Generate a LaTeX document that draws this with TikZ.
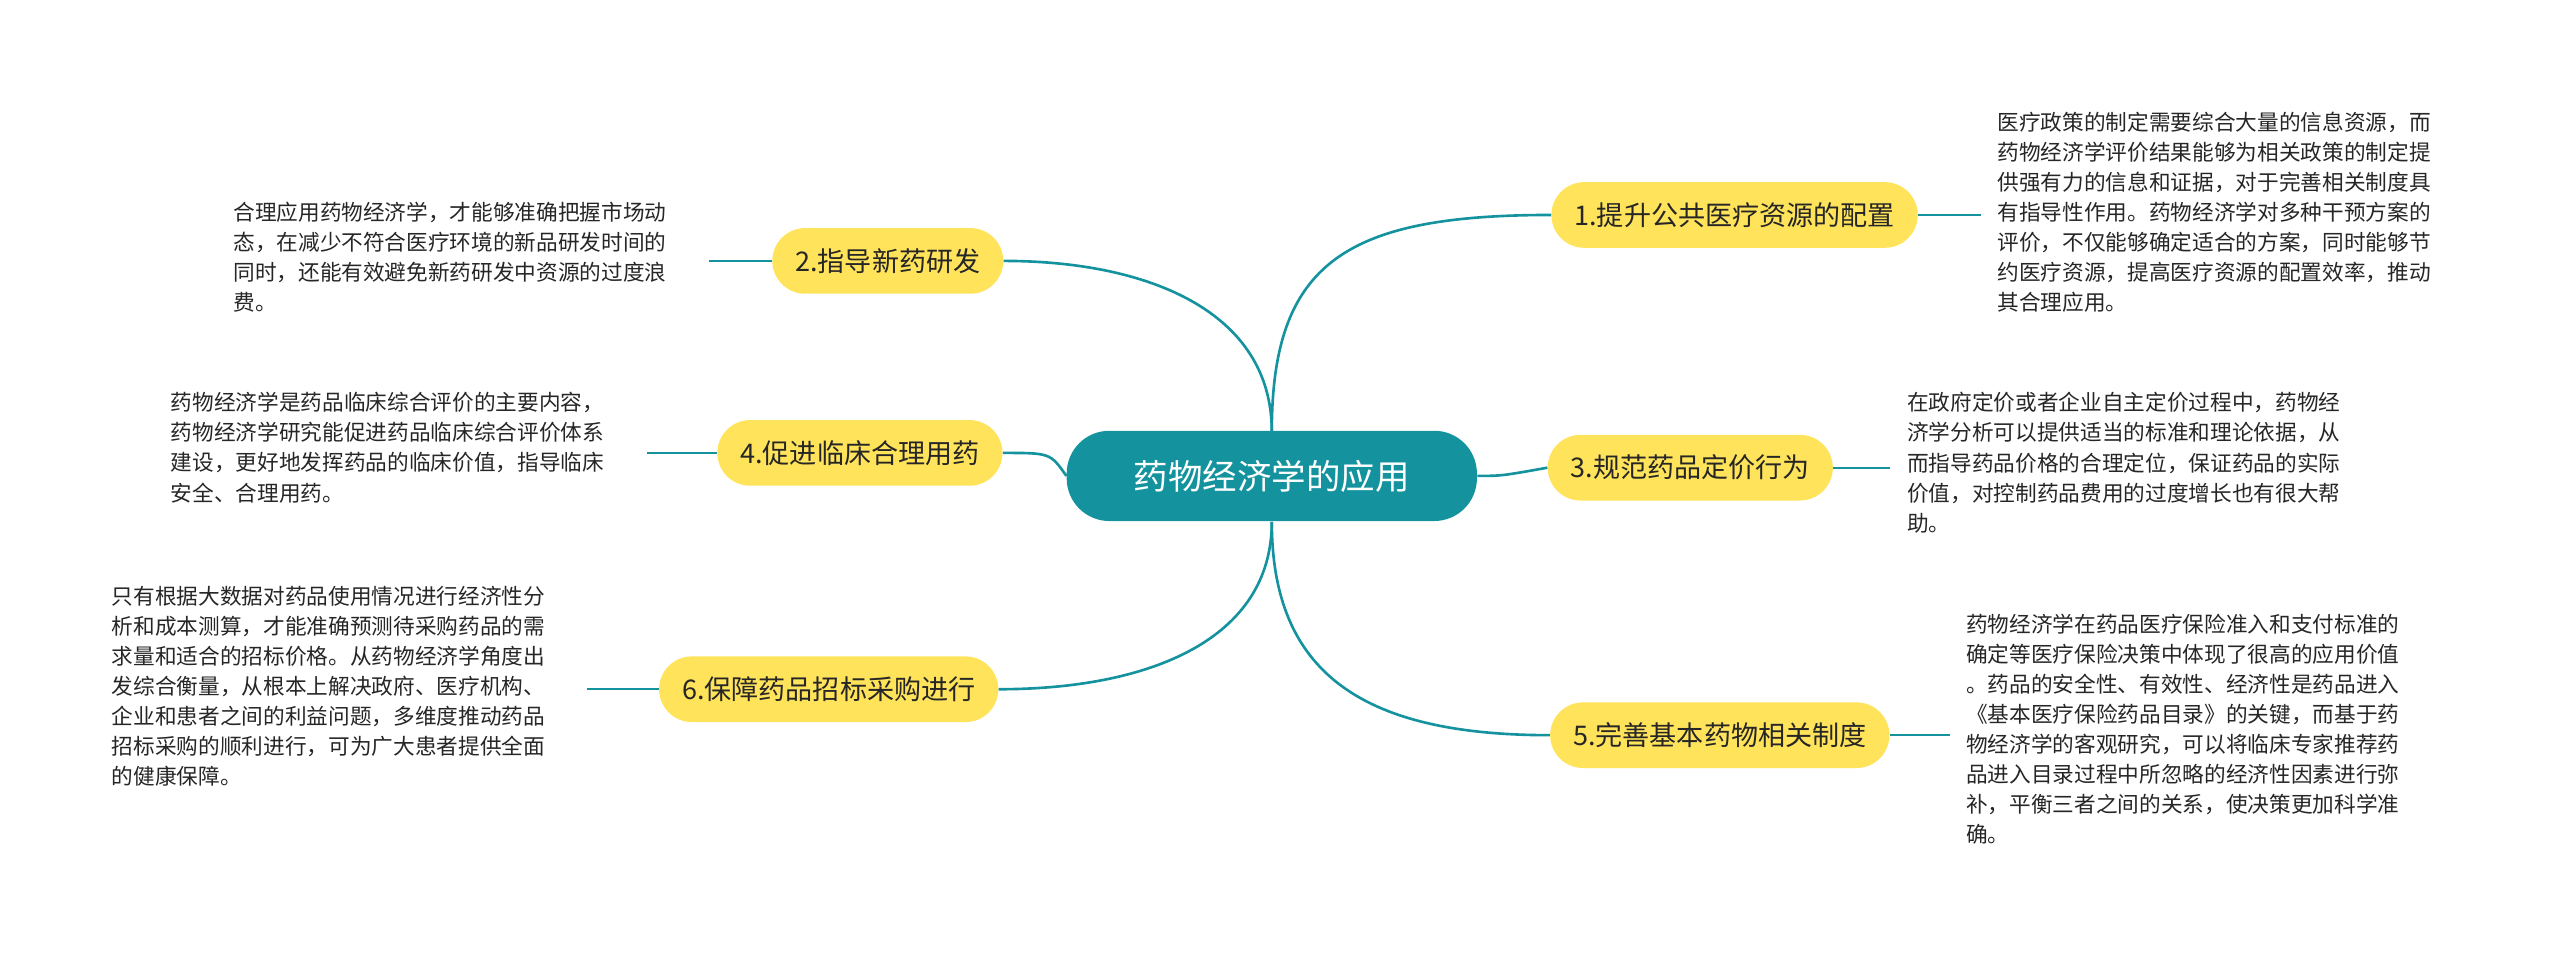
\documentclass[tikz,border=0pt]{standalone}
\usepackage{fontspec}
\setmainfont{Noto Sans CJK SC}
\begin{document}
\begin{tikzpicture}[x=1pt,y=-1pt,
  br/.style={fill=brY,rounded corners=20pt,minimum height=40pt,inner xsep=14pt,font=\fontsize{16.5}{20}\selectfont,text=black!85},
  desc/.style={align=left,font=\fontsize{13.2}{18.3}\selectfont,text=black!85,inner sep=0pt},
  ln/.style={draw=teal0,line width=1.6pt}]
\definecolor{brY}{HTML}{FFE35A}
\definecolor{teal0}{HTML}{14939F}
\useasboundingbox (0,0) rectangle (1560,585);
\node[fill=teal0,rounded corners=26pt,minimum width=250pt,minimum height=55pt,text=white,font=\fontsize{21}{25}\selectfont] (c) at (775,290) {药物经济学的应用};
\node[br] (b1) at (1057,131) {1.提升公共医疗资源的配置};
\node[br] (b2) at (541,159) {2.指导新药研发};
\node[br] (b3) at (1030,285) {3.规范药品定价行为};
\node[br] (b4) at (524,276) {4.促进临床合理用药};
\node[br] (b5) at (1048,448) {5.完善基本药物相关制度};
\node[br] (b6) at (505,420) {6.保障药品招标采购进行};
\node[desc,anchor=north west] (d1) at (1217,68) {医疗政策的制定需要综合大量的信息资源，而\\药物经济学评价结果能够为相关政策的制定提\\供强有力的信息和证据，对于完善相关制度具\\有指导性作用。药物经济学对多种干预方案的\\评价，不仅能够确定适合的方案，同时能够节\\约医疗资源，提高医疗资源的配置效率，推动\\其合理应用。};
\node[desc,anchor=north west] (d2) at (142,123) {合理应用药物经济学，才能够准确把握市场动\\态，在减少不符合医疗环境的新品研发时间的\\同时，还能有效避免新药研发中资源的过度浪\\费。};
\node[desc,anchor=north west] (d3) at (1162,239) {在政府定价或者企业自主定价过程中，药物经\\济学分析可以提供适当的标准和理论依据，从\\而指导药品价格的合理定位，保证药品的实际\\价值，对控制药品费用的过度增长也有很大帮\\助。};
\node[desc,anchor=north west] (d4) at (104,239) {药物经济学是药品临床综合评价的主要内容，\\药物经济学研究能促进药品临床综合评价体系\\建设，更好地发挥药品的临床价值，指导临床\\安全、合理用药。};
\node[desc,anchor=north west] (d5) at (1198,374) {药物经济学在药品医疗保险准入和支付标准的\\确定等医疗保险决策中体现了很高的应用价值\\。药品的安全性、有效性、经济性是药品进入\\《基本医疗保险药品目录》的关键，而基于药\\物经济学的客观研究，可以将临床专家推荐药\\品进入目录过程中所忽略的经济性因素进行弥\\补，平衡三者之间的关系，使决策更加科学准\\确。};
\node[desc,anchor=north west] (d6) at (68,357) {只有根据大数据对药品使用情况进行经济性分\\析和成本测算，才能准确预测待采购药品的需\\求量和适合的招标价格。从药物经济学角度出\\发综合衡量，从根本上解决政府、医疗机构、\\企业和患者之间的利益问题，多维度推动药品\\招标采购的顺利进行，可为广大患者提供全面\\的健康保障。};
\coordinate (ct) at (775,263);
\coordinate (cb) at (775,318);
\draw[ln] (ct) .. controls (775,160) and (820,131) .. (b1.west);
\draw[ln] (ct) .. controls (775,190) and (700,159) .. (b2.east);
\draw[ln] (c.east) .. controls (915,290) .. (b3.west);
\draw[ln] (c.west) .. controls (640,276) .. (b4.east);
\draw[ln] (cb) .. controls (775,410) and (830,448) .. (b5.west);
\draw[ln] (cb) .. controls (775,390) and (700,420) .. (b6.east);
\draw[ln,line width=1.2pt] (b1.east) -- (1207,131);
\draw[ln,line width=1.2pt] (b3.east) -- (1152,285);
\draw[ln,line width=1.2pt] (b5.east) -- (1188,448);
\draw[ln,line width=1.2pt] (b2.west) -- (432,159);
\draw[ln,line width=1.2pt] (b4.west) -- (394,276);
\draw[ln,line width=1.2pt] (b6.west) -- (358,420);
\end{tikzpicture}
\end{document}
